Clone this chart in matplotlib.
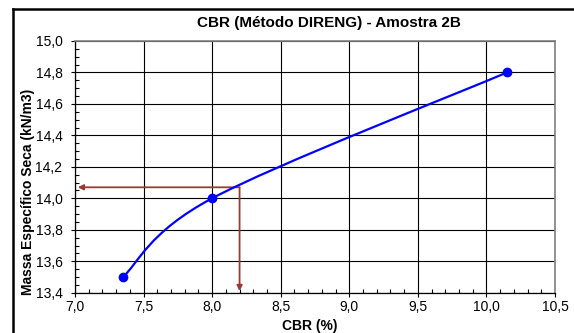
import numpy as np
import matplotlib
matplotlib.use("Agg")
import matplotlib.pyplot as plt
from matplotlib.ticker import MultipleLocator, FuncFormatter
from matplotlib.lines import Line2D
from matplotlib.path import Path
from matplotlib.patches import PathPatch

# ---- data ----
cbr = [7.35, 8.0, 10.15]          # CBR (%)
massa = [13.5, 14.0, 14.8]        # kN/m3
cbr_lido = 8.2                    # value read on the curve
massa_lida = 14.07

titulo = "CBR (Método DIRENG) - Amostra 2B"
xlabel = "CBR (%)"
ylabel = "Massa Específico Seca (kN/m3)"

plt.rcParams['font.family'] = ['Liberation Sans', 'DejaVu Sans']

W, H = 574, 333
fig = plt.figure(figsize=(W / 100, H / 100), dpi=100)

# axes in pixel box
x0, x1, y0, y1 = 75, 555, 41, 292.7
ax = fig.add_axes([x0 / W, 1 - y1 / H, (x1 - x0) / W, (y1 - y0) / H])
ax.set_xlim(7.0, 10.5)
ax.set_ylim(13.4, 15.0)

ax.xaxis.set_major_locator(MultipleLocator(0.5))
ax.xaxis.set_minor_locator(MultipleLocator(0.1))
ax.yaxis.set_major_locator(MultipleLocator(0.2))
ax.yaxis.set_minor_locator(MultipleLocator(0.05))
virg = FuncFormatter(lambda v, p: ("%.1f" % v).replace(".", ","))
ax.xaxis.set_major_formatter(virg)
ax.yaxis.set_major_formatter(virg)
ax.tick_params(which='major', direction='out', length=3, width=0.8,
               labelsize=10, color='black')
ax.tick_params(axis='x', which='major', pad=2.5)
ax.tick_params(axis='y', which='major', pad=6)
ax.tick_params(which='minor', direction='in', length=3, width=0.8)
ax.grid(True, which='major', color='black', lw=0.8)
ax.set_axisbelow(True)
for s in ['top', 'right']:
    ax.spines[s].set_color('#808080')
    ax.spines[s].set_linewidth(1.2)
for s in ['left', 'bottom']:
    ax.spines[s].set_color('black')
    ax.spines[s].set_linewidth(0.9)

# smoothed line (Excel style bezier, done in pixel space)
pts = ax.transData.transform(np.column_stack([cbr, massa]))
n = len(pts)
verts = [pts[0]]
codes = [Path.MOVETO]
for i in range(n - 1):
    pm = pts[i - 1] if i > 0 else pts[i]
    pp = pts[i + 2] if i + 2 < n else pts[i + 1]
    c1 = pts[i] + (pts[i + 1] - pm) / 6.0
    c2 = pts[i + 1] - (pp - pts[i]) / 6.0
    verts += [c1, c2, pts[i + 1]]
    codes += [Path.CURVE4] * 3
curva = Path(ax.transData.inverted().transform(np.array(verts)), codes)
ax.add_patch(PathPatch(curva, fill=False, edgecolor='#0000FF', lw=1.6,
                       zorder=4))
ax.plot(cbr, massa, 'o', color='#0000FF', ms=6, zorder=5)

# reading arrows
vermelho = '#9B3A32'
seta = dict(arrowstyle='-|>', color=vermelho, lw=1.3, mutation_scale=8,
            shrinkA=0, shrinkB=0)
ax.annotate('', xy=(7.02, massa_lida), xytext=(cbr_lido, massa_lida),
            arrowprops=seta, zorder=3)
ax.annotate('', xy=(cbr_lido, 13.41), xytext=(cbr_lido, massa_lida),
            arrowprops=seta, zorder=3)

# texts
fig.text(329 / W, 1 - 23 / H, titulo, ha='center', va='center',
         fontsize=11, fontweight='bold')
fig.text(310 / W, 1 - 326 / H, xlabel, ha='center', va='center',
         fontsize=10, fontweight='bold')
fig.text(28 / W, 1 - 192 / H, ylabel, ha='center', va='center',
         fontsize=10, fontweight='bold', rotation=90)

# frame of the embedded chart
fig.add_artist(Line2D([13 / W, 13 / W], [0, 1 - 9 / H], color='black',
                      lw=1.8, transform=fig.transFigure))
fig.add_artist(Line2D([13 / W, 1], [1 - 9 / H, 1 - 9 / H], color='black',
                      lw=1.8, transform=fig.transFigure))

fig.savefig('out.png', dpi=100)
